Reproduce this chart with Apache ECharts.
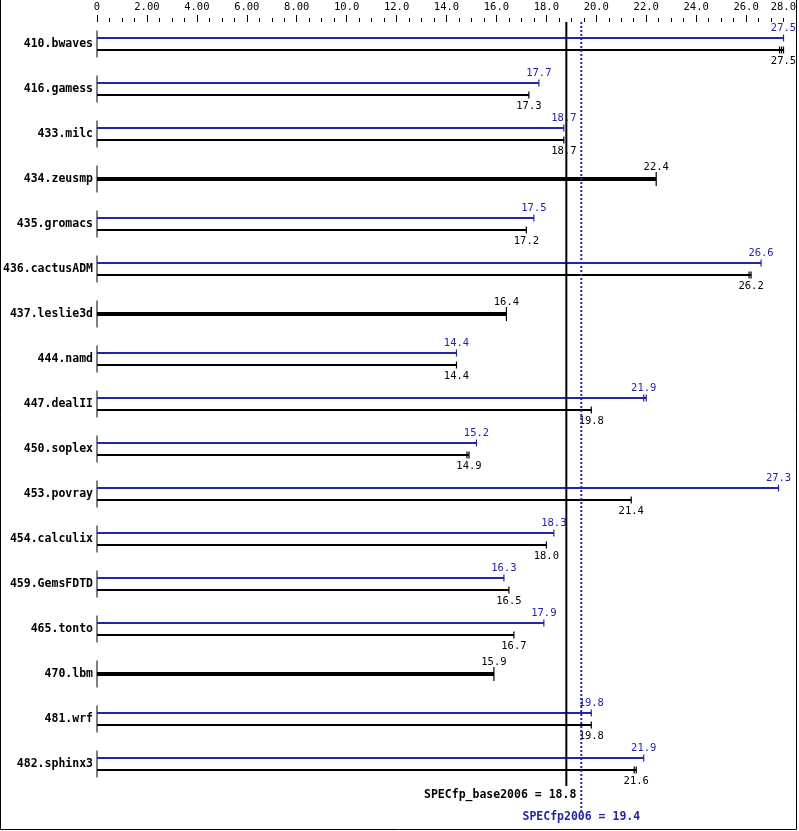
<!DOCTYPE html>
<html><head><meta charset="utf-8">
<script src="https://cdn.jsdelivr.net/npm/echarts@6/dist/echarts.min.js"></script>
<style>html,body{margin:0;padding:0;background:#fff}#c{width:799px;height:831px}</style>
</head><body><div id="c"></div>
<script>
const benchmarks = ['410.bwaves','416.gamess','433.milc','434.zeusmp','435.gromacs','436.cactusADM','437.leslie3d','444.namd','447.dealII','450.soplex','453.povray','454.calculix','459.GemsFDTD','465.tonto','470.lbm','481.wrf','482.sphinx3'];
const peakScores = [27.5, 17.7, 18.7, null, 17.5, 26.6, null, 14.4, 21.9, 15.2, 27.3, 18.3, 16.3, 17.9, null, 19.8, 21.9];
const baseScores = [27.5, 17.3, 18.7, 22.4, 17.2, 26.2, 16.4, 14.4, 19.8, 14.9, 21.4, 18.0, 16.5, 16.7, 15.9, 19.8, 21.6];
const peakExtraRuns = [[],[],[],[],[],[],[],[],[22.0],[],[],[],[],[],[],[],[]];
const baseExtraRuns = [[27.42,27.34],[],[],[],[],[26.12],[],[],[],[14.82],[],[],[],[],[],[],[21.52]];
const axisMin = 0, axisMax = 28, axisStep = 2;
const baseMean = 18.8, peakMean = 19.4;
const baseLabel = 'SPECfp_base2006';
const peakLabel = 'SPECfp2006';

const BLUE = '#2424aa';
const MONO = '"DejaVu Sans Mono", "Liberation Mono", monospace';

function txt(text, x, y, align, color, font) {
  return { type: 'text', silent: true, style: { text: text, x: x, y: y, align: align, textAlign: align,
    verticalAlign: 'middle', textVerticalAlign: 'middle', fill: color, font: font } };
}
function hline(x1, x2, y, color, w) {
  return { type: 'line', silent: true, shape: { x1: x1, y1: y, x2: x2, y2: y }, style: { stroke: color, lineWidth: w } };
}
function vline(x, y1, y2, color, w, dash) {
  const s = { stroke: color, lineWidth: w };
  if (dash) s.lineDash = dash;
  return { type: 'line', silent: true, shape: { x1: x, y1: y1, x2: x, y2: y2 }, style: s };
}

const chart = echarts.init(document.getElementById('c'), null, { renderer: 'canvas' });

const rowData = benchmarks.map((b, i) => [i, peakScores[i] == null ? baseScores[i] : peakScores[i], baseScores[i]]);

const option = {
  animation: false,
  backgroundColor: '#fff',
  grid: { left: 97, top: 22, width: 699, height: 765, containLabel: false },
  xAxis: {
    type: 'value', position: 'top', min: axisMin, max: axisMax, interval: axisStep,
    axisLine: { show: false },
    axisTick: { show: true, length: 7, lineStyle: { color: '#000', width: 1 } },
    minorTick: { show: true, splitNumber: 4, length: 4, lineStyle: { color: '#000', width: 1 } },
    splitLine: { show: false }, minorSplitLine: { show: false },
    axisLabel: {
      margin: 9, color: '#000', fontFamily: MONO, fontSize: 10.5, alignMaxLabel: 'right',
      formatter: v => v === 0 ? '0' : (v < 10 ? v.toFixed(2) : v.toFixed(1))
    }
  },
  yAxis: {
    type: 'category', inverse: true, data: benchmarks,
    axisLine: { show: false }, axisTick: { show: false }, splitLine: { show: false },
    axisLabel: { margin: 4, color: '#000', fontFamily: MONO, fontWeight: 'bold', fontSize: 11.5 }
  },
  series: [
    {
      type: 'custom', name: 'rows', coordinateSystem: 'cartesian2d', clip: false,
      data: rowData, encode: { x: [1, 2], y: 0 },
      renderItem: function (params, api) {
        const i = params.dataIndex;
        const o = api.coord([axisMin, i]);
        const x0 = o[0], yc = o[1] - 0.5;
        const ch = [];
        ch.push(vline(x0, yc - 13.5, yc + 13.5, '#000', 1));
        const numFont = '10.5px ' + MONO;
        if (peakScores[i] == null) {
          const xe = api.coord([baseScores[i], i])[0];
          ch.push(hline(x0, xe, yc, '#000', 4));
          ch.push(vline(xe, yc - 7, yc + 7, '#000', 1.2));
          ch.push(txt(baseScores[i].toFixed(1), xe, yc - 12, 'center', '#000', numFont));
        } else {
          const yp = yc - 6, yb = yc + 6;
          const pRuns = [peakScores[i]].concat(peakExtraRuns[i]);
          const bRuns = [baseScores[i]].concat(baseExtraRuns[i]);
          const xpEnd = api.coord([Math.max.apply(null, pRuns), i])[0];
          const xbEnd = api.coord([Math.max.apply(null, bRuns), i])[0];
          ch.push(hline(x0, xpEnd, yp, BLUE, 2));
          pRuns.forEach(r => ch.push(vline(api.coord([r, i])[0], yp - 3.5, yp + 3.5, BLUE, 1.2)));
          ch.push(hline(x0, xbEnd, yb, '#000', 2));
          bRuns.forEach(r => ch.push(vline(api.coord([r, i])[0], yb - 3.5, yb + 3.5, '#000', 1.2)));
          const xp = api.coord([peakScores[i], i])[0];
          const xb = api.coord([baseScores[i], i])[0];
          ch.push(txt(peakScores[i].toFixed(1), xp, yp - 10, 'center', BLUE, numFont));
          ch.push(txt(baseScores[i].toFixed(1), xb, yb + 11, 'center', '#000', numFont));
        }
        return { type: 'group', children: ch };
      },
      z: 2
    },
    {
      type: 'custom', name: 'means', coordinateSystem: 'cartesian2d', clip: false,
      data: [[baseMean, 0], [peakMean, 0]], encode: { x: 0, y: 1 },
      renderItem: function (params, api) {
        const cs = params.coordSys;
        const xl = api.coord([api.value(0), 0])[0];
        const top = cs.y, bottom = cs.y + cs.height;
        const boldFont = 'bold 11.5px ' + MONO;
        if (params.dataIndex === 0) {
          return { type: 'group', children: [
            vline(xl, top, bottom - 1, '#000', 2),
            txt(baseLabel + ' = ' + baseMean.toFixed(1), xl + 10, bottom + 8, 'right', '#000', boldFont)
          ]};
        }
        return { type: 'group', children: [
          vline(xl, top, bottom + 25, BLUE, 2, [2, 2]),
          txt(peakLabel + ' = ' + peakMean.toFixed(1), xl, bottom + 30, 'center', BLUE, boldFont)
        ]};
      },
      z: 3
    }
  ],
  graphic: [
    { type: 'polyline', silent: true, shape: { points: [[0.5, 0], [0.5, 829.5], [796.5, 829.5], [796.5, 0]] },
      style: { stroke: '#000', lineWidth: 1, fill: null } }
  ]
};
chart.setOption(option);
</script></body></html>
